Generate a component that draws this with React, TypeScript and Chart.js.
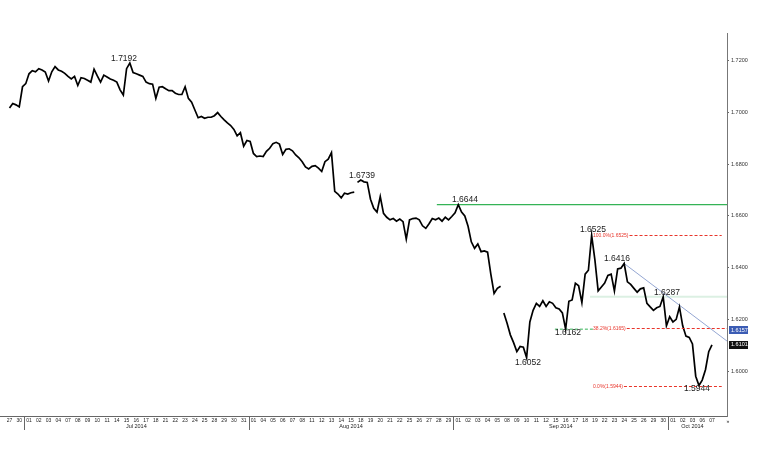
import { useEffect, useRef } from 'react';
import { Chart, registerables } from 'chart.js';

Chart.register(...registerables);

const NARROW = "'Liberation Sans Narrow', 'Liberation Sans', Arial, sans-serif";
const SANS = "'Liberation Sans', Arial, sans-serif";

// trading days (x axis categories)
const dayLabels = [
  '27', '30',
  '01', '02', '03', '04', '07', '08', '09', '10', '11', '14', '15', '16', '17', '18', '21', '22', '23', '24', '25', '28', '29', '30', '31',
  '01', '04', '05', '06', '07', '08', '11', '12', '13', '14', '15', '18', '19', '20', '21', '22', '25', '26', '27', '28', '29',
  '01', '02', '03', '04', '05', '08', '09', '10', '11', '12', '15', '16', '17', '18', '19', '22', '23', '24', '25', '26', '29', '30',
  '01', '02', '03', '06', '07',
];
const monthNames = ['Jul 2014', 'Aug 2014', 'Sep 2014', 'Oct 2014'];
const monthFirstDay = [2, 25, 46, 68];
const monthLastDay = [24, 45, 67, 72];

// GBP/USD, three readings per trading day
const slotsPerDay = 3;
const gbpusd: (number | null)[] = [
  null, 1.7018, 1.7035,
  1.7030, 1.7022, 1.7100,
  1.7112, 1.7150, 1.7162,
  1.7158, 1.7170, 1.7165,
  1.7157, 1.7122, 1.7158,
  1.7178, 1.7165, 1.7160,
  1.7152, 1.7140, 1.7130,
  1.7140, 1.7105, 1.7135,
  1.7132, 1.7125, 1.7118,
  1.7168, 1.7142, 1.7118,
  1.7145, 1.7138, 1.7130,
  1.7125, 1.7118, 1.7088,
  1.7068, 1.7170, 1.7192,
  1.7155, 1.7150, 1.7145,
  1.7140, 1.7118, 1.7112,
  1.7110, 1.7055, 1.7098,
  1.7100, 1.7092, 1.7085,
  1.7085, 1.7075, 1.7070,
  1.7070, 1.7100, 1.7055,
  1.7040, 1.7010, 1.6980,
  1.6985, 1.6978, 1.6982,
  1.6982, 1.6988, 1.7000,
  1.6985, 1.6972, 1.6960,
  1.6950, 1.6935, 1.6910,
  1.6922, 1.6870, 1.6892,
  1.6888, 1.6842, 1.6830,
  1.6832, 1.6830, 1.6850,
  1.6862, 1.6880, 1.6885,
  1.6878, 1.6838, 1.6858,
  1.6860, 1.6852, 1.6836,
  1.6825, 1.6810, 1.6790,
  1.6782, 1.6792, 1.6795,
  1.6785, 1.6772, 1.6810,
  1.6820, 1.6845, 1.6695,
  1.6685, 1.6670, 1.6688,
  1.6685, 1.6690, 1.6692,
  1.6730, 1.6739, 1.6732,
  1.6730, 1.6665, 1.6630,
  1.6615, 1.6675, 1.6610,
  1.6595, 1.6585, 1.6590,
  1.6580, 1.6588, 1.6578,
  1.6510, 1.6585, 1.6590,
  1.6592, 1.6585, 1.6562,
  1.6552, 1.6570, 1.6590,
  1.6585, 1.6592, 1.6580,
  1.6595, 1.6585, 1.6598,
  1.6612, 1.6644, 1.6615,
  1.6600, 1.6560, 1.6500,
  1.6475, 1.6492, 1.6462,
  1.6465, 1.6460, 1.6375,
  1.6300, 1.6320, 1.6328,
  1.6225, 1.6185, 1.6140,
  1.6110, 1.6075, 1.6095,
  1.6092, 1.6052, 1.6190,
  1.6235, 1.6262, 1.6250,
  1.6272, 1.6250, 1.6268,
  1.6262, 1.6245, 1.6240,
  1.6225, 1.6162, 1.6270,
  1.6275, 1.6340, 1.6330,
  1.6265, 1.6375, 1.6390,
  1.6525, 1.6430, 1.6310,
  1.6325, 1.6340, 1.6370,
  1.6375, 1.6310, 1.6395,
  1.6398, 1.6416, 1.6345,
  1.6335, 1.6320, 1.6305,
  1.6318, 1.6322, 1.6262,
  1.6248, 1.6235, 1.6245,
  1.6250, 1.6287, 1.6175,
  1.6210, 1.6190, 1.6200,
  1.6248, 1.6175, 1.6135,
  1.6130, 1.6105, 1.5980,
  1.5944, 1.5965, 1.6005,
  1.6075, 1.6101, null,
];
// missing data after these readings (no connecting line)
const missingAfterSlot = [107, 152];

const yTicks = [1.60, 1.62, 1.64, 1.66, 1.68, 1.70, 1.72];
const yMin = 1.5826;
const yMax = 1.7308;
const xMin = -0.974;
const xMax = 73.54;

// annotations
const peakTexts = ['1.7192', '1.6739', '1.6644', '1.6052', '1.6525', '1.6416', '1.6287', '1.6162', '1.5944'];
const peakTextDays = [11.74, 36.13, 46.68, 53.14, 59.8, 62.26, 67.39, 57.24, 70.46];
const peakTextPrices = [1.7208, 1.6755, 1.6662, 1.6031, 1.6546, 1.6433, 1.6302, 1.6147, 1.593];

const fibTexts = ['100.0%(1.6525)', '38.2%(1.6165)', '0.0%(1.5944)'];
const fibLevels = [1.6525, 1.6165, 1.5944];
const fibTextDay = 59.8;
const fibEndDays = [73.0, 73.54, 73.0];

const resistanceLevel = 1.6644;
const resistanceFromDay = 43.8;
const pivotLevel = 1.6287;
const pivotFromDay = 59.5;
const supportLevel = 1.6162;
const supportDays = [55.9, 59.8];
const trendDays = [63.0, 73.54];
const trendPrices = [1.6416, 1.6116];

const tagTexts = ['1.6157', '1.6101'];
const tagPrices = [1.6157, 1.6101];
const tagColors = ['#3b5cb4', '#111111'];

const overlayPlugin = {
  id: 'overlay',
  afterDatasetsDraw(chart: any) {
    const { ctx, scales } = chart;
    const x = scales.x;
    const y = scales.y;
    ctx.save();
    // fibonacci levels
    ctx.font = `5px ${SANS}`;
    ctx.textBaseline = 'middle';
    ctx.textAlign = 'left';
    fibLevels.forEach((lv, i) => {
      const py = Math.round(y.getPixelForValue(lv)) + 0.5;
      const px = x.getPixelForValue(fibTextDay);
      ctx.fillStyle = '#e8352b';
      ctx.fillText(fibTexts[i], px, py);
      const w = ctx.measureText(fibTexts[i]).width;
      ctx.strokeStyle = '#e8352b';
      ctx.lineWidth = 1;
      ctx.setLineDash([3, 2]);
      ctx.beginPath();
      ctx.moveTo(px + w + 1, py);
      ctx.lineTo(x.getPixelForValue(fibEndDays[i]), py);
      ctx.stroke();
    });
    ctx.setLineDash([]);
    // price labels
    ctx.font = `8.5px ${NARROW}`;
    ctx.textAlign = 'center';
    ctx.fillStyle = '#1a1a1a';
    peakTexts.forEach((t, i) => {
      ctx.fillText(t, x.getPixelForValue(peakTextDays[i]), y.getPixelForValue(peakTextPrices[i]));
    });
    ctx.restore();
  },
  afterDraw(chart: any) {
    const { ctx, scales, chartArea } = chart;
    const x = scales.x;
    const y = scales.y;
    ctx.save();
    // month separators and names
    ctx.strokeStyle = '#666';
    ctx.lineWidth = 1;
    monthFirstDay.forEach((d) => {
      const px = Math.round(x.getPixelForValue(d - 0.5)) + 0.5;
      ctx.beginPath();
      ctx.moveTo(px, chartArea.bottom);
      ctx.lineTo(px, chartArea.bottom + 14);
      ctx.stroke();
    });
    ctx.font = `5.5px ${SANS}`;
    ctx.fillStyle = '#222';
    ctx.textAlign = 'center';
    ctx.textBaseline = 'middle';
    monthNames.forEach((m, i) => {
      const mid = (monthFirstDay[i] + monthLastDay[i]) / 2;
      ctx.fillText(m, x.getPixelForValue(mid), chartArea.bottom + 10.5);
    });
    ctx.font = `5px ${SANS}`;
    ctx.fillText('»', chartArea.right + 1, chartArea.bottom + 6);
    // value tags on right axis
    ctx.font = `5.5px ${NARROW}`;
    ctx.textAlign = 'left';
    tagTexts.forEach((t, i) => {
      const py = y.getPixelForValue(tagPrices[i]);
      ctx.fillStyle = tagColors[i];
      ctx.fillRect(chartArea.right + 2, Math.round(py) - 4, 19, 8);
      ctx.fillStyle = '#fff';
      ctx.fillText(t, chartArea.right + 4, py);
    });
    ctx.restore();
  },
};

export default function App() {
  const ref = useRef<HTMLCanvasElement | null>(null);
  useEffect(() => {
    if (!ref.current) return;
    const pricePoints = gbpusd.map((v, i) => ({
      x: Math.floor(i / slotsPerDay) + ((i % slotsPerDay) - 1) / slotsPerDay,
      y: v,
    }));
    const chart = new Chart(ref.current, {
      type: 'line',
      data: {
        datasets: [
          {
            label: 'GBPUSD',
            data: pricePoints as any,
            borderColor: '#000',
            borderWidth: 1.7,
            pointRadius: 0,
            tension: 0,
            spanGaps: false,
            borderJoinStyle: 'miter',
            segment: {
              borderColor: (c: any) => (missingAfterSlot.includes(c.p0DataIndex) ? 'rgba(0,0,0,0)' : '#000'),
            },
            order: 1,
          },
          {
            label: 'resistance',
            data: [
              { x: resistanceFromDay, y: resistanceLevel },
              { x: xMax, y: resistanceLevel },
            ],
            borderColor: '#34b356',
            borderWidth: 1.3,
            pointRadius: 0,
            order: 2,
          },
          {
            label: 'pivot',
            data: [
              { x: pivotFromDay, y: pivotLevel },
              { x: xMax, y: pivotLevel },
            ],
            borderColor: '#dcf0e3',
            borderWidth: 2,
            pointRadius: 0,
            order: 3,
          },
          {
            label: 'support',
            data: [
              { x: supportDays[0], y: supportLevel },
              { x: supportDays[1], y: supportLevel },
            ],
            borderColor: '#34b356',
            borderWidth: 1,
            borderDash: [3, 2],
            pointRadius: 0,
            order: 2,
          },
          {
            label: 'trend',
            data: [
              { x: trendDays[0], y: trendPrices[0] },
              { x: trendDays[1], y: trendPrices[1] },
            ],
            borderColor: '#94a6d2',
            borderWidth: 1,
            pointRadius: 0,
            order: 2,
          },
        ],
      },
      options: {
        animation: false,
        responsive: false,
        events: [],
        layout: { padding: { top: 33, left: 0, right: 0, bottom: 0 } },
        plugins: { legend: { display: false }, tooltip: { enabled: false }, title: { display: false } },
        scales: {
          x: {
            type: 'linear',
            min: xMin,
            max: xMax,
            afterBuildTicks: (scale: any) => {
              scale.ticks = dayLabels.map((_, i) => ({ value: i }));
            },
            afterFit: (scale: any) => {
              scale.height = 43;
            },
            grid: { display: false, drawTicks: false },
            border: { display: true, color: '#666', width: 1 },
            ticks: {
              autoSkip: false,
              maxRotation: 0,
              minRotation: 0,
              padding: 2,
              color: '#222',
              font: { size: 5, family: SANS },
              callback: (v: any) => dayLabels[Math.round(Number(v))] ?? '',
            },
          },
          y: {
            type: 'linear',
            position: 'right',
            min: yMin,
            max: yMax,
            afterBuildTicks: (scale: any) => {
              scale.ticks = yTicks.map((v) => ({ value: v }));
            },
            afterFit: (scale: any) => {
              scale.width = 43;
            },
            grid: { display: true, drawOnChartArea: false, drawTicks: true, tickLength: 2, color: '#666' },
            border: { display: true, color: '#777', width: 1 },
            ticks: {
              padding: 2,
              color: '#333',
              font: { size: 5.5, family: SANS },
              callback: (v: any) => Number(v).toFixed(4),
            },
          },
        },
      },
      plugins: [overlayPlugin],
    });
    return () => chart.destroy();
  }, []);
  return (
    <div style={{ position: 'fixed', left: 0, top: 0, width: 770, height: 459, background: '#fff' }}>
      <canvas ref={ref} width={770} height={459} style={{ display: 'block', width: 770, height: 459 }} />
    </div>
  );
}
